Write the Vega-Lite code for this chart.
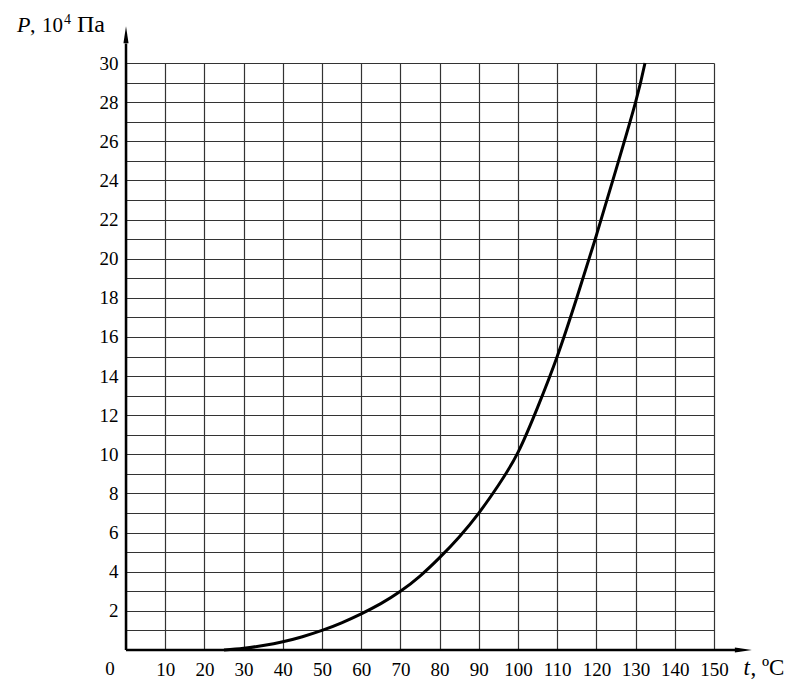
{
  "$schema": "https://vega.github.io/schema/vega-lite/v6.json",
  "width": 588,
  "height": 587,
  "autosize": {"type": "none"},
  "padding": {"left": 126, "top": 63, "right": 79, "bottom": 30},
  "config": {
    "view": {"stroke": null},
    "font": "Liberation Serif",
    "text": {"font": "Liberation Serif", "color": "#000", "baseline": "alphabetic", "align": "left"},
    "axis": {"labelFont": "Liberation Serif", "labelFontSize": 19, "labelColor": "#000", "labelOverlap": false, "labelFlush": false, "labelBound": false}
  },
  "datasets": {
    "curve": [
      {"t": 25, "P": 0},
      {"t": 30, "P": 0.09}, {"t": 35, "P": 0.23}, {"t": 40, "P": 0.42}, {"t": 45, "P": 0.68},
      {"t": 50, "P": 1.0}, {"t": 55, "P": 1.39}, {"t": 60, "P": 1.85}, {"t": 65, "P": 2.37},
      {"t": 70, "P": 3.0}, {"t": 75, "P": 3.78}, {"t": 80, "P": 4.72}, {"t": 85, "P": 5.78},
      {"t": 90, "P": 7.0}, {"t": 95, "P": 8.42}, {"t": 100, "P": 10.1}, {"t": 105, "P": 12.4},
      {"t": 110, "P": 15.0}, {"t": 115, "P": 18.0}, {"t": 120, "P": 21.2}, {"t": 125, "P": 24.55},
      {"t": 130, "P": 28.0}, {"t": 132.4, "P": 30}
    ],
    "axes": [
      {"t": 0, "P": 0, "t2": 0, "P2": 31.0},
      {"t": 0, "P": 0, "t2": 156.5, "P2": 0}
    ],
    "origin": [{"t": 0, "P": 0, "label": "0"}]
  },
  "layer": [
    {
      "data": {"name": "axes"},
      "mark": {"type": "rule", "color": "#000", "strokeWidth": 2.5},
      "encoding": {
        "x": {
          "field": "t", "type": "quantitative",
          "scale": {"domain": [0, 150], "nice": false, "zero": false},
          "axis": {
            "values": [0, 10, 20, 30, 40, 50, 60, 70, 80, 90, 100, 110, 120, 130, 140, 150],
            "tickCount": 100, "format": "d",
            "title": null, "domain": false, "ticks": false, "labelOverlap": false,
            "grid": true, "gridColor": "#333", "gridWidth": 1.2, "gridOpacity": 1,
            "labelPadding": 10, "labelExpr": "datum.value == 0 ? '' : datum.label"
          }
        },
        "y": {
          "field": "P", "type": "quantitative",
          "scale": {"domain": [0, 30], "nice": false, "zero": false},
          "axis": {
            "values": [0, 1, 2, 3, 4, 5, 6, 7, 8, 9, 10, 11, 12, 13, 14, 15, 16, 17, 18, 19, 20, 21, 22, 23, 24, 25, 26, 27, 28, 29, 30],
            "tickCount": 100, "format": "d",
            "title": null, "domain": false, "ticks": false, "labelOverlap": false,
            "grid": true, "gridColor": "#333", "gridWidth": 1.2, "gridOpacity": 1,
            "labelPadding": 8,
            "labelExpr": "(datum.value % 2 == 0 && datum.value > 0) ? datum.label : ''"
          }
        },
        "x2": {"field": "t2"},
        "y2": {"field": "P2"}
      }
    },
    {
      "data": {"name": "curve"},
      "mark": {"type": "line", "color": "#000", "strokeWidth": 3, "interpolate": "natural"},
      "encoding": {
        "x": {"field": "t", "type": "quantitative"},
        "y": {"field": "P", "type": "quantitative"}
      }
    },
    {
      "data": {"values": [{"t": 0, "P": 31.45}]},
      "mark": {"type": "point", "shape": "M-0.3,1 L0,-1 L0.3,1 Z", "size": 289, "filled": true, "color": "#000", "opacity": 1, "strokeWidth": 0},
      "encoding": {
        "x": {"field": "t", "type": "quantitative"},
        "y": {"field": "P", "type": "quantitative"}
      }
    },
    {
      "data": {"values": [{"t": 157.5, "P": 0}]},
      "mark": {"type": "point", "shape": "M-1,-0.3 L1,0 L-1,0.3 Z", "size": 289, "filled": true, "color": "#000", "opacity": 1, "strokeWidth": 0},
      "encoding": {
        "x": {"field": "t", "type": "quantitative"},
        "y": {"field": "P", "type": "quantitative"}
      }
    },
    {
      "data": {"name": "origin"},
      "mark": {"type": "text", "fontSize": 19, "align": "center", "dx": -16, "dy": 25},
      "encoding": {
        "x": {"field": "t", "type": "quantitative"},
        "y": {"field": "P", "type": "quantitative"},
        "text": {"field": "label"}
      }
    },
    {
      "data": {"values": [{"t": 0, "P": 31.45, "label": "P"}]},
      "mark": {"type": "text", "fontSize": 22, "fontStyle": "italic", "dx": -109, "dy": -3},
      "encoding": {
        "x": {"field": "t", "type": "quantitative"},
        "y": {"field": "P", "type": "quantitative"},
        "text": {"field": "label"}
      }
    },
    {
      "data": {"values": [{"t": 0, "P": 31.45, "label": ","}]},
      "mark": {"type": "text", "fontSize": 22, "dx": -96, "dy": -3},
      "encoding": {
        "x": {"field": "t", "type": "quantitative"},
        "y": {"field": "P", "type": "quantitative"},
        "text": {"field": "label"}
      }
    },
    {
      "data": {"values": [{"t": 0, "P": 31.45, "label": "10"}]},
      "mark": {"type": "text", "fontSize": 21, "dx": -84, "dy": -3},
      "encoding": {
        "x": {"field": "t", "type": "quantitative"},
        "y": {"field": "P", "type": "quantitative"},
        "text": {"field": "label"}
      }
    },
    {
      "data": {"values": [{"t": 0, "P": 31.45, "label": "4"}]},
      "mark": {"type": "text", "fontSize": 14, "dx": -62, "dy": -11},
      "encoding": {
        "x": {"field": "t", "type": "quantitative"},
        "y": {"field": "P", "type": "quantitative"},
        "text": {"field": "label"}
      }
    },
    {
      "data": {"values": [{"t": 0, "P": 31.45, "label": "Па"}]},
      "mark": {"type": "text", "fontSize": 24, "dx": -49, "dy": -3},
      "encoding": {
        "x": {"field": "t", "type": "quantitative"},
        "y": {"field": "P", "type": "quantitative"},
        "text": {"field": "label"}
      }
    },
    {
      "data": {"values": [{"t": 157.5, "P": 0, "label": "t"}]},
      "mark": {"type": "text", "fontSize": 23, "fontStyle": "italic", "dx": 0, "dy": 25},
      "encoding": {
        "x": {"field": "t", "type": "quantitative"},
        "y": {"field": "P", "type": "quantitative"},
        "text": {"field": "label"}
      }
    },
    {
      "data": {"values": [{"t": 157.5, "P": 0, "label": ", ºC"}]},
      "mark": {"type": "text", "fontSize": 23, "dx": 7, "dy": 25},
      "encoding": {
        "x": {"field": "t", "type": "quantitative"},
        "y": {"field": "P", "type": "quantitative"},
        "text": {"field": "label"}
      }
    }
  ]
}
